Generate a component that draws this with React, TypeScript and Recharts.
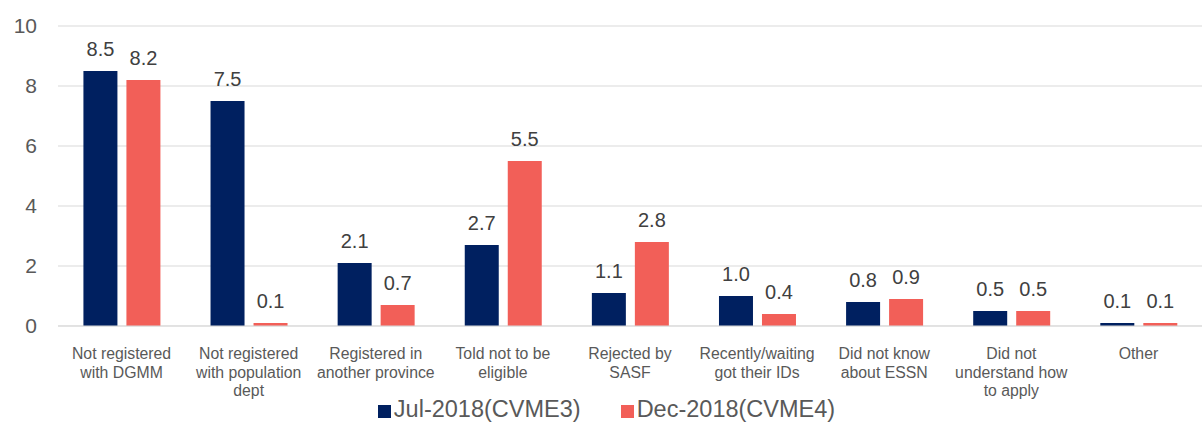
import React from 'react';
import { BarChart, Bar, XAxis, YAxis, CartesianGrid, Legend, LabelList } from 'recharts';

const categories = [
  'Not registered\nwith DGMM',
  'Not registered\nwith population\ndept',
  'Registered in\nanother province',
  'Told not to be\neligible',
  'Rejected by\nSASF',
  'Recently/waiting\ngot their IDs',
  'Did not know\nabout ESSN',
  'Did not\nunderstand how\nto apply',
  'Other',
];
const jul2018 = [8.5, 7.5, 2.1, 2.7, 1.1, 1.0, 0.8, 0.5, 0.1];
const dec2018 = [8.2, 0.1, 0.7, 5.5, 2.8, 0.4, 0.9, 0.5, 0.1];
const yTicks = [0, 2, 4, 6, 8, 10];

const NAVY = '#002060';
const CORAL = '#F25F58';
const FONT = '"Liberation Sans", Arial, sans-serif';

const data = categories.map((name, i) => ({ name, jul: jul2018[i], dec: dec2018[i] }));

const CategoryTick = (props: any) => {
  const { x, y, payload } = props;
  const lines = String(payload.value).split('\n');
  return (
    <text x={x} y={y + 25} textAnchor="middle" fill="#595959" fontSize={15.8} fontFamily={FONT}>
      {lines.map((l, i) => (
        <tspan key={i} x={x} dy={i === 0 ? 0 : 18.5}>
          {l}
        </tspan>
      ))}
    </text>
  );
};

const LegendContent = () => (
  <div style={{ display: 'flex', justifyContent: 'center', fontFamily: FONT, fontSize: 23.5, lineHeight: '27px', color: '#595959', marginTop: 1, paddingLeft: 11 }}>
    {[
      { label: 'Jul-2018(CVME3)', color: NAVY },
      { label: 'Dec-2018(CVME4)', color: CORAL },
    ].map((item, i) => (
      <div key={i} style={{ display: 'flex', alignItems: 'center', marginLeft: i ? 40 : 0 }}>
        <span style={{ width: 13, height: 13, background: item.color, display: 'inline-block', marginRight: 3, marginTop: 4 }} />
        <span>{item.label}</span>
      </div>
    ))}
  </div>
);

export default function App() {
  return (
    <div style={{ position: 'absolute', left: 0, top: 0, background: '#fff' }}>
      <BarChart
        width={1202}
        height={423}
        data={data}
        margin={{ top: 26, right: 0, left: 0, bottom: 0 }}
        barCategoryGap="20%"
        barGap={9}
      >
        <CartesianGrid vertical={false} stroke="#d9d9d9" />
        <XAxis
          dataKey="name"
          interval={0}
          height={69}
          tickLine={false}
          axisLine={{ stroke: '#d9d9d9' }}
          tick={<CategoryTick />}
        />
        <YAxis
          domain={[0, 10]}
          ticks={yTicks}
          width={58}
          axisLine={false}
          tickLine={false}
          tickMargin={15}
          tick={{ fill: '#595959', fontSize: 21, fontFamily: FONT }}
        />
        <Legend verticalAlign="bottom" height={28} content={<LegendContent />} />
        <Bar dataKey="jul" fill={NAVY} isAnimationActive={false}>
          <LabelList
            dataKey="jul"
            position="top"
            offset={15}
            formatter={(v: any) => Number(v).toFixed(1)}
            style={{ fill: '#404040', fontSize: 20, fontFamily: FONT }}
          />
        </Bar>
        <Bar dataKey="dec" fill={CORAL} isAnimationActive={false}>
          <LabelList
            dataKey="dec"
            position="top"
            offset={15}
            formatter={(v: any) => Number(v).toFixed(1)}
            style={{ fill: '#404040', fontSize: 20, fontFamily: FONT }}
          />
        </Bar>
      </BarChart>
    </div>
  );
}
